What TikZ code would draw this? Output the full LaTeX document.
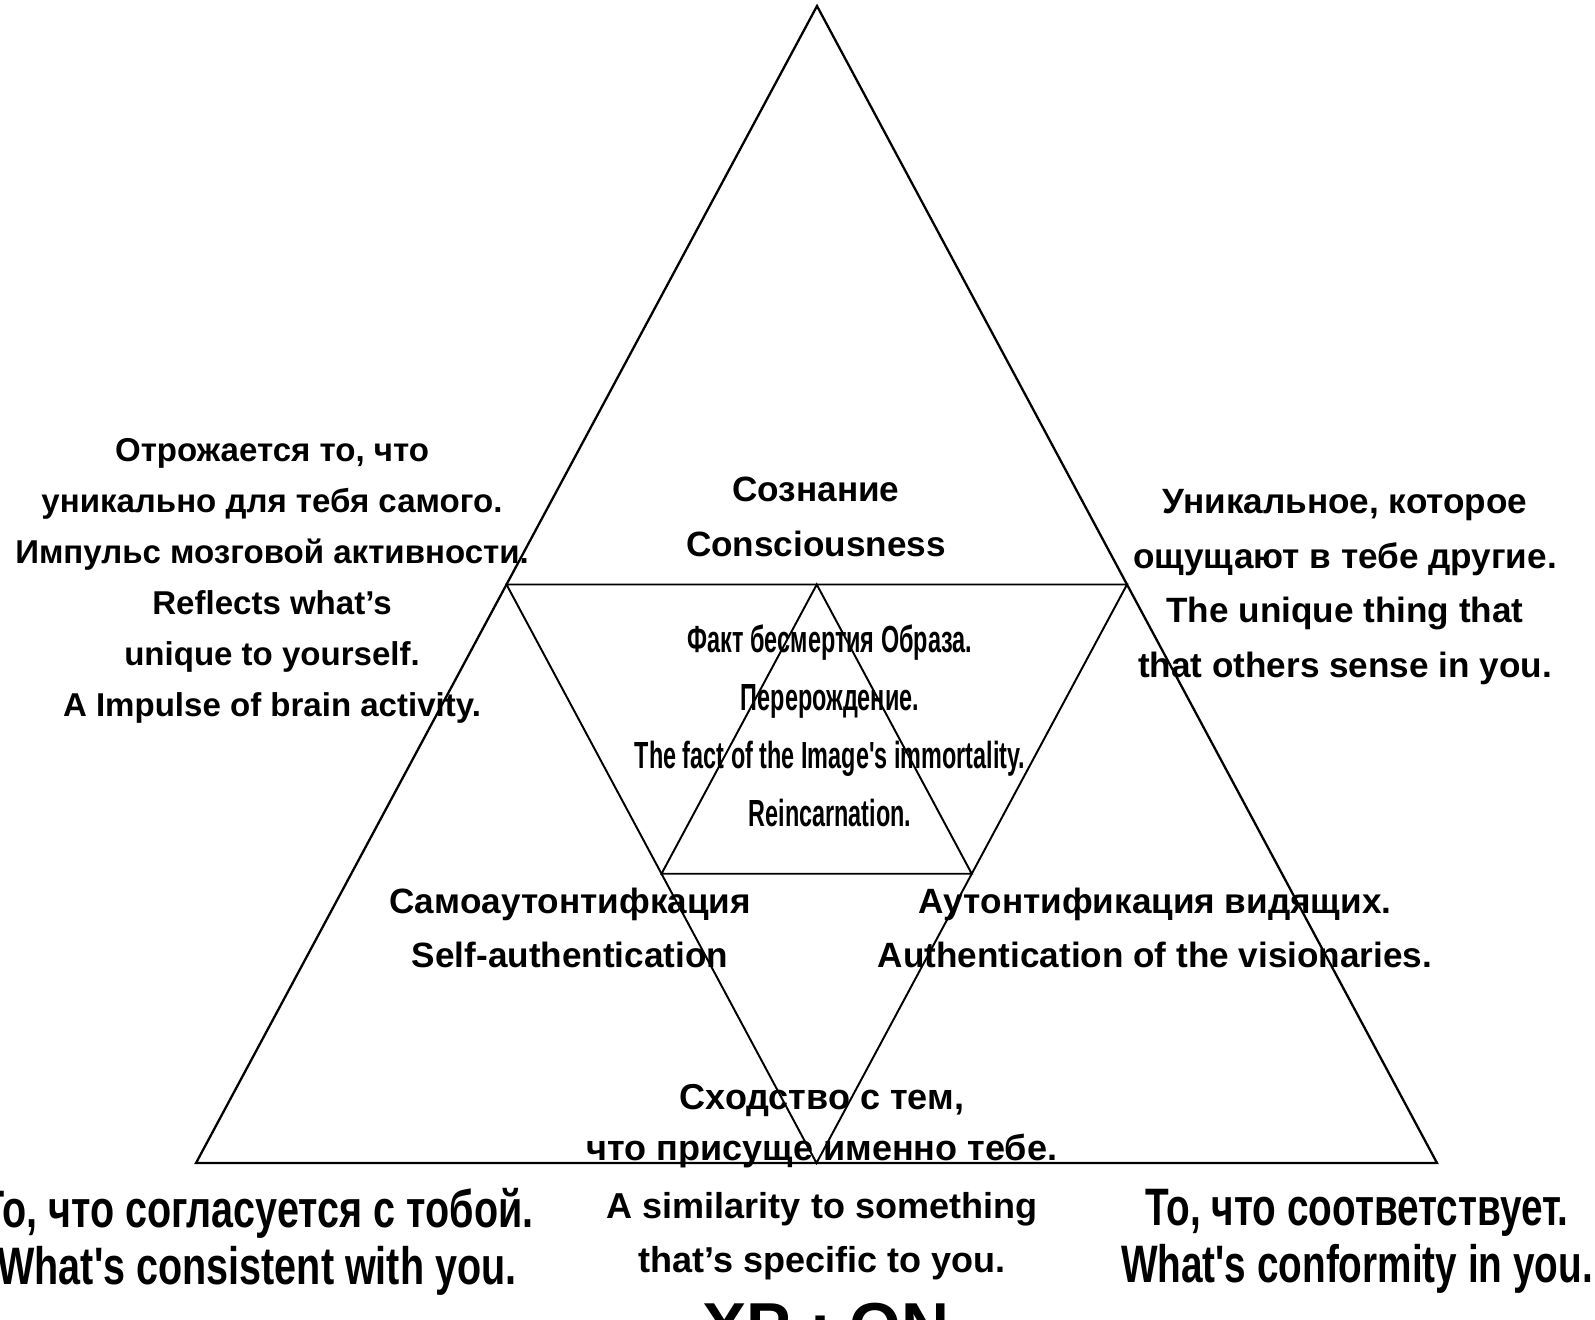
\documentclass[tikz,border=0pt]{standalone}
\usepackage{fontspec}
\setmainfont{Liberation Sans}
\newfontfamily\condfont{Liberation Sans}[FakeStretch=0.62]
\newfontfamily\widecondfont{Liberation Sans}[FakeStretch=0.75]
\newfontfamily\rightcondfont{Liberation Sans}[FakeStretch=0.735]
\usetikzlibrary{calc}

\begin{document}
\begin{tikzpicture}[
    x=0.02cm, y=-0.02cm,
    every node/.style={align=center, inner sep=0pt, font=\bfseries},
    outer/.style={line width=1.3pt, line join=miter},
    innerline/.style={line width=1.1pt, line join=miter},
    sidetxt/.style={font=\bfseries\fontsize{18.8}{29}\selectfont},
    midtxt/.style={font=\bfseries\fontsize{20}{31}\selectfont},
    coretxt/.style={font=\condfont\bfseries\fontsize{21.5}{33}\selectfont},
    cornertxt/.style={font=\widecondfont\bfseries\fontsize{30}{32.5}\selectfont}
]

\useasboundingbox (0,0) rectangle (1595,1319);

% === Triangles ===
\coordinate (top) at (817,6);
\coordinate (bl) at (196,1163);
\coordinate (br) at (1437,1163);
\coordinate (ml) at ($(top)!0.5!(bl)$);
\coordinate (mr) at ($(top)!0.5!(br)$);
\coordinate (mb) at ($(bl)!0.5!(br)$);
\coordinate (it) at ($(ml)!0.5!(mr)$);
\coordinate (il) at ($(ml)!0.5!(mb)$);
\coordinate (ir) at ($(mr)!0.5!(mb)$);

\draw[outer] (top) -- (bl) -- (br) -- cycle;
\draw[innerline] (ml) -- (mr) -- (mb) -- cycle;
\draw[innerline] (it) -- (il) -- (ir) -- cycle;

% === Upper labels ===
\node[sidetxt] (reflects) at (272,581)
    {Отрожается то, что\\уникально для тебя самого.\\Импульс мозговой активности.\\Reflects what's\\unique to yourself.\\A Impulse of brain activity.};

\node[midtxt] (conscious) at (816,517)
    {Сознание\\Consciousness};

\node[midtxt] (others) at (1345,587)
    {Уникальное, которое\\ощущают в тебе другие.\\The unique thing that\\that others sense in you.};

\node[coretxt] (image) at (830,726)
    {Факт бесмертия Образа.\\Перерождение.\\The fact of the Image's immortality.\\Reincarnation.};

% === Lower labels ===
\node[midtxt] (selfauth) at (570,928)
    {Самоаутонтифкация\\Self-authentication};

\node[midtxt] (visionaries) at (1155,928)
    {Аутонтификация видящих.\\Authentication of the visionaries.};

\node[font=\bfseries\fontsize{20.5}{29}\selectfont] (similar) at (822,1182)
    {Сходство с тем,\\что присуще именно тебе.\\[4pt]A similarity to something\\[2pt]that's specific to you.};

\node[font=\bfseries\fontsize{37.8}{40}\selectfont] (xpon) at (826,1327) {XP : ON};

\node[cornertxt] (consistent) at (257,1242)
    {То, что согласуется с тобой.\\What's consistent with you.};

\node[cornertxt, font=\rightcondfont\bfseries\fontsize{30}{32.5}\selectfont] (conformity) at (1357,1241)
    {То, что соответствует.\\What's conformity in you.};

\end{tikzpicture}
\end{document}
